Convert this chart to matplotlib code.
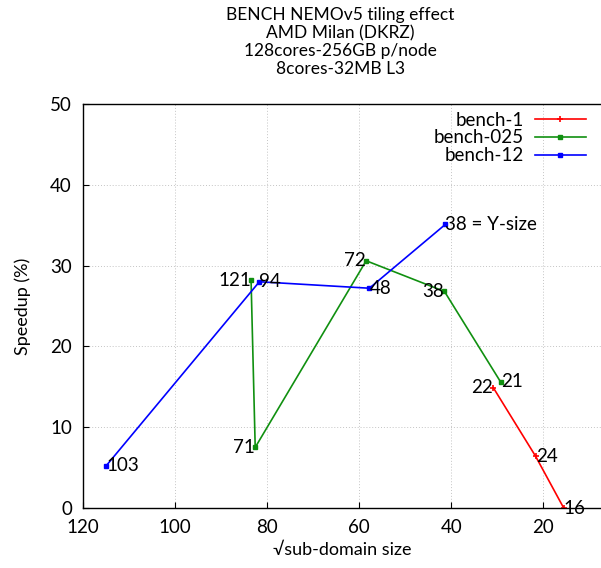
import matplotlib
matplotlib.use("Agg")
import matplotlib.pyplot as plt

plt.rcParams['font.family'] = ['Lato', 'DejaVu Sans']

# bench-1 (red)
x_b1 = [30.9, 21.7, 15.6]
y_b1 = [14.9, 6.4, 0.0]
lab_b1 = ["22", "24", "16"]
ha_b1 = ["right", "left", "left"]

# bench-025 (green)
x_b025 = [83.5, 82.6, 58.5, 41.5, 29.3]
y_b025 = [28.2, 7.5, 30.6, 26.8, 15.6]
lab_b025 = ["121", "71", "72", "38", "21"]
ha_b025 = ["right", "right", "right", "right", "left"]

# bench-12 (blue)
x_b12 = [115.0, 81.7, 57.8, 41.3]
y_b12 = [5.2, 28.0, 27.2, 35.1]
lab_b12 = ["103", "94", "48", "38 = Y-size"]
ha_b12 = ["left", "left", "left", "left"]

fig = plt.figure(figsize=(6.01, 5.68), dpi=100)
ax = fig.add_axes([83/601, 60/568, 518/601, 404/568])

ax.plot(x_b1, y_b1, color='red', lw=1.2, marker='+', ms=5, mew=1.2, label='bench-1')
ax.plot(x_b025, y_b025, color='#109010', lw=1.2, marker='s', ms=3.5, label='bench-025')
ax.plot(x_b12, y_b12, color='blue', lw=1.2, marker='s', ms=3.5, label='bench-12')

for xs, ys, labs, has in [(x_b1, y_b1, lab_b1, ha_b1),
                          (x_b025, y_b025, lab_b025, ha_b025),
                          (x_b12, y_b12, lab_b12, ha_b12)]:
    for x, y, t, h in zip(xs, ys, labs, has):
        ax.text(x, y, t, ha=h, va='center', fontsize=13.5, color='black')

ax.set_xlim(120, 7.5)
ax.set_ylim(0, 50)
ax.set_xticks([120, 100, 80, 60, 40, 20])
ax.set_yticks([0, 10, 20, 30, 40, 50])
ax.tick_params(direction='in', labelsize=13.5, length=4, pad=8)
ax.grid(True, color='#c4c4c4', ls=(0, (1, 2)), lw=0.7)
ax.spines['right'].set_visible(False)
for s in ['left', 'top', 'bottom']:
    ax.spines[s].set_linewidth(1.0)

ax.set_xlabel('\u221asub-domain size', fontsize=13)
ax.set_ylabel('Speedup (%)', fontsize=13, labelpad=14)

fig.text(0.566, 0.987, 'BENCH NEMOv5 tiling effect\nAMD Milan (DKRZ)\n128cores-256GB p/node\n8cores-32MB L3',
         ha='center', va='top', fontsize=12.5, linespacing=1.15)

ax.legend(loc='upper right', frameon=False, markerfirst=False, fontsize=13.5,
          handlelength=2.7, handletextpad=0.6, borderaxespad=0.0,
          labelspacing=0.05, bbox_to_anchor=(0.985, 1.0))

fig.savefig('out.png', dpi=100)
